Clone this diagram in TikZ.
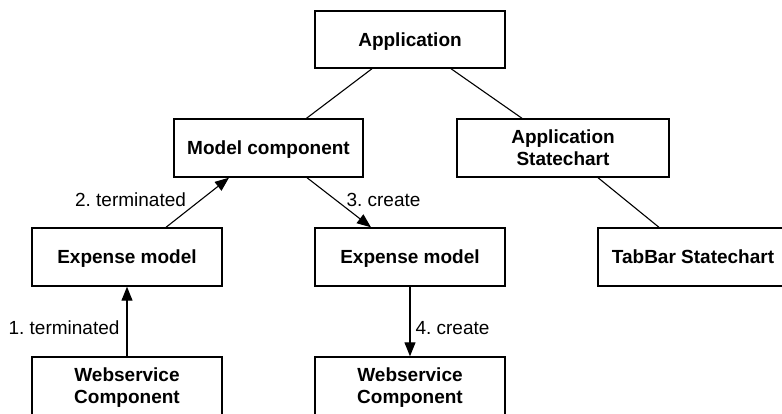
\documentclass[tikz,border=0pt]{standalone}
\usepackage{fontspec}
\setmainfont{Liberation Sans}
\usetikzlibrary{arrows.meta}
\frenchspacing
\begin{document}
\begin{tikzpicture}[x=1pt,y=-1pt,
  box/.style={draw,line width=1.4pt,minimum width=190pt,minimum height=58pt,inner sep=0pt,
    align=center,text depth=0pt,font=\fontsize{19}{22}\selectfont\bfseries},
  conn/.style={line width=1.1pt},
  arr/.style={line width=1.1pt,-{Triangle[length=14pt,width=11pt]}},
  lbl/.style={inner sep=0pt,font=\fontsize{19}{22}\selectfont}]
\useasboundingbox (0,0) rectangle (782,413);
\clip (0,0) rectangle (782,413);
\node[box,minimum height=57pt] (app) at (410,39.5) {Application};
\node[box,minimum width=189pt] (model) at (268.5,148) {Model component};
\node[box,minimum width=212pt,text depth=-4pt] (appsc) at (563,148) {Application\\Statechart};
\node[box] (expL) at (127,257) {Expense model};
\node[box] (expM) at (410,257) {Expense model};
\node[box] (tab) at (693,257) {TabBar Statechart};
\node[box] (wsL) at (127,386) {Webservice\\Component};
\node[box] (wsM) at (410,386) {Webservice\\Component};
\draw[conn] ([xshift=-38pt]app.south) -- ([xshift=38pt]model.north);
\draw[conn] ([xshift=41pt]app.south) -- ([xshift=-41pt]appsc.north);
\draw[conn] ([xshift=35pt]appsc.south) -- ([xshift=-34pt]tab.north);
\draw[arr] ([xshift=39pt]expL.north) -- ([xshift=-39.5pt]model.south)
  node[lbl,midway,anchor=east,xshift=-11pt,yshift=2.5pt] {2. terminated};
\draw[arr] ([xshift=38.5pt]model.south) -- ([xshift=-39pt]expM.north)
  node[lbl,midway,anchor=west,xshift=7pt,yshift=2.5pt] {3. create};
\draw[arr] (wsL.north) -- (expL.south)
  node[lbl,midway,anchor=east,xshift=-7pt,yshift=-6.5pt] {1. terminated};
\draw[arr] (expM.south) -- (wsM.north)
  node[lbl,midway,anchor=west,xshift=5pt,yshift=-6.5pt] {4. create};
\end{tikzpicture}
\end{document}
